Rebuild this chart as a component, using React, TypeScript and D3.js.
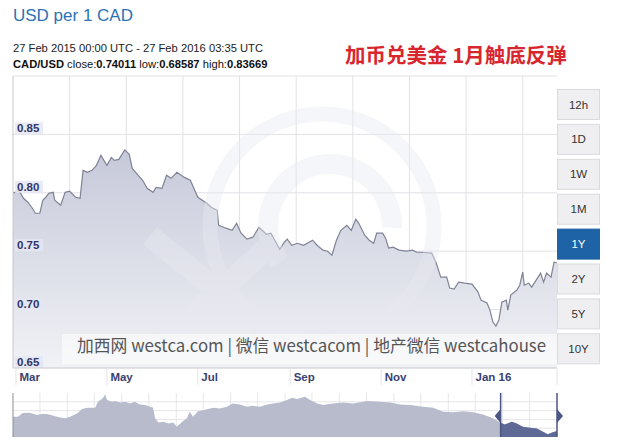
import React from 'react';
import * as d3 from 'd3';

// CAD/USD, 27 Feb 2015 - 27 Feb 2016
const rateSeries: [string, number][] = [
  ['2015-02-27', 0.7996], ['2015-03-03', 0.8021], ['2015-03-06', 0.7953], ['2015-03-09', 0.7919],
  ['2015-03-12', 0.7868], ['2015-03-14', 0.7825], ['2015-03-17', 0.7825], ['2015-03-19', 0.7936],
  ['2015-03-21', 0.7962], ['2015-03-23', 0.7996], ['2015-03-26', 0.8004], ['2015-03-27', 0.7936],
  ['2015-03-31', 0.7893], ['2015-04-03', 0.8004], ['2015-04-06', 0.8013], ['2015-04-10', 0.7962],
  ['2015-04-13', 0.7953], ['2015-04-15', 0.8192], ['2015-04-18', 0.8175], ['2015-04-21', 0.8192],
  ['2015-04-24', 0.8235], ['2015-04-27', 0.8321], ['2015-04-29', 0.8278], ['2015-05-01', 0.8235],
  ['2015-05-04', 0.8303], ['2015-05-06', 0.8278], ['2015-05-09', 0.8286], ['2015-05-13', 0.8367],
  ['2015-05-16', 0.8329], ['2015-05-18', 0.8209], ['2015-05-22', 0.8150], ['2015-05-25', 0.8107],
  ['2015-05-28', 0.8038], ['2015-06-01', 0.8004], ['2015-06-03', 0.8047], ['2015-06-07', 0.8038],
  ['2015-06-10', 0.8150], ['2015-06-13', 0.8124], ['2015-06-17', 0.8175], ['2015-06-22', 0.8132],
  ['2015-06-26', 0.8107], ['2015-07-01', 0.7962], ['2015-07-07', 0.7910], ['2015-07-10', 0.7876],
  ['2015-07-14', 0.7850], ['2015-07-15', 0.7722], ['2015-07-20', 0.7697], ['2015-07-24', 0.7679],
  ['2015-07-27', 0.7739], ['2015-07-30', 0.7654], ['2015-08-03', 0.7603], ['2015-08-07', 0.7620],
  ['2015-08-11', 0.7705], ['2015-08-16', 0.7645], ['2015-08-19', 0.7654], ['2015-08-25', 0.7517],
  ['2015-08-28', 0.7577], ['2015-08-30', 0.7603], ['2015-09-02', 0.7551], ['2015-09-06', 0.7568],
  ['2015-09-10', 0.7551], ['2015-09-16', 0.7594], ['2015-09-19', 0.7551], ['2015-09-23', 0.7509],
  ['2015-09-26', 0.7500], ['2015-09-29', 0.7466], ['2015-10-02', 0.7594], ['2015-10-05', 0.7679],
  ['2015-10-09', 0.7722], ['2015-10-12', 0.7679], ['2015-10-15', 0.7774], ['2015-10-17', 0.7739],
  ['2015-10-21', 0.7637], ['2015-10-24', 0.7594], ['2015-10-27', 0.7568], ['2015-10-29', 0.7654],
  ['2015-11-02', 0.7654], ['2015-11-04', 0.7611], ['2015-11-06', 0.7526], ['2015-11-09', 0.7534],
  ['2015-11-13', 0.7509], ['2015-11-18', 0.7500], ['2015-11-22', 0.7509], ['2015-11-25', 0.7491],
  ['2015-11-28', 0.7491], ['2015-12-05', 0.7483], ['2015-12-08', 0.7397], ['2015-12-11', 0.7278],
  ['2015-12-15', 0.7278], ['2015-12-17', 0.7184], ['2015-12-20', 0.7175], ['2015-12-23', 0.7235],
  ['2015-12-27', 0.7226], ['2016-01-01', 0.7218], ['2016-01-05', 0.7150], ['2016-01-07', 0.7081],
  ['2016-01-11', 0.7056], ['2016-01-13', 0.6996], ['2016-01-15', 0.6893], ['2016-01-17', 0.6859],
  ['2016-01-19', 0.6910], ['2016-01-21', 0.7064], ['2016-01-24', 0.7081], ['2016-01-25', 0.6996],
  ['2016-01-27', 0.7124], ['2016-01-31', 0.7167], ['2016-02-02', 0.7209], ['2016-02-04', 0.7321],
  ['2016-02-05', 0.7209], ['2016-02-08', 0.7226], ['2016-02-10', 0.7192], ['2016-02-13', 0.7252],
  ['2016-02-16', 0.7312], ['2016-02-18', 0.7235], ['2016-02-20', 0.7312], ['2016-02-23', 0.7278],
  ['2016-02-25', 0.7406], ['2016-02-27', 0.7401],
];

// 10 year history shown in the navigator strip
const navSeries: [string, number][] = [
  ['2006-02-27', 0.859], ['2006-04-01', 0.859], ['2006-05-03', 0.896], ['2006-06-20', 0.899],
  ['2006-08-07', 0.876], ['2006-09-09', 0.886], ['2006-10-12', 0.886], ['2006-11-25', 0.869],
  ['2007-01-08', 0.853], ['2007-02-14', 0.844], ['2007-03-17', 0.859], ['2007-05-03', 0.893],
  ['2007-06-06', 0.935], ['2007-07-15', 0.948], ['2007-09-02', 0.948], ['2007-09-20', 1.007],
  ['2007-10-23', 1.041], ['2007-11-07', 1.080], ['2007-11-21', 1.024], ['2007-12-24', 1.007],
  ['2008-01-12', 1.014], ['2008-02-18', 1.001], ['2008-03-20', 1.007], ['2008-04-23', 0.991],
  ['2008-05-25', 1.007], ['2008-06-27', 0.981], ['2008-08-03', 0.975], ['2008-09-06', 0.958],
  ['2008-09-24', 0.948], ['2008-10-08', 0.844], ['2008-10-30', 0.804], ['2008-12-02', 0.810],
  ['2009-01-05', 0.794], ['2009-02-07', 0.804], ['2009-03-02', 0.761], ['2009-04-08', 0.810],
  ['2009-05-10', 0.844], ['2009-05-28', 0.909], ['2009-06-20', 0.859], ['2009-07-23', 0.915],
  ['2009-08-25', 0.925], ['2009-09-27', 0.935], ['2009-11-03', 0.948], ['2009-12-17', 0.942],
  ['2010-02-03', 0.958], ['2010-03-13', 0.991], ['2010-04-30', 0.981], ['2010-06-17', 0.958],
  ['2010-07-26', 0.968], ['2010-09-13', 0.958], ['2010-10-30', 0.981], ['2010-12-09', 0.991],
  ['2011-01-26', 1.001], ['2011-03-13', 1.024], ['2011-04-15', 1.047], ['2011-05-18', 1.034],
  ['2011-07-12', 1.056], ['2011-08-14', 1.024], ['2011-10-01', 0.991], ['2011-11-11', 0.975],
  ['2012-01-15', 0.991], ['2012-03-24', 1.001], ['2012-05-28', 0.991], ['2012-09-02', 1.014],
  ['2012-11-29', 1.007], ['2013-02-03', 1.001], ['2013-04-08', 0.981], ['2013-06-17', 0.975],
  ['2013-09-13', 0.958], ['2013-11-18', 0.948], ['2014-01-23', 0.909], ['2014-04-01', 0.903],
  ['2014-06-06', 0.915], ['2014-08-14', 0.903], ['2014-10-19', 0.883], ['2014-12-24', 0.844],
  ['2015-02-11', 0.804], ['2015-03-13', 0.784], ['2015-04-30', 0.810], ['2015-06-02', 0.794],
  ['2015-07-12', 0.761], ['2015-08-29', 0.751], ['2015-10-15', 0.745], ['2015-11-25', 0.712],
  ['2015-12-27', 0.686], ['2016-01-30', 0.706], ['2016-02-27', 0.718],
];

const yTicks = [0.65, 0.7, 0.75, 0.8, 0.85];
const xTickDates = ['2015-03-01', '2015-05-01', '2015-07-01', '2015-09-01', '2015-11-01', '2016-01-01'];
const xTickLabels = ['Mar', 'May', 'Jul', 'Sep', 'Nov', 'Jan 16'];
const rangeButtons = ['12h', '1D', '1W', '1M', '1Y', '2Y', '5Y', '10Y'];
const activeButton = '1Y';

const parse = d3.timeParse('%Y-%m-%d');
const FONT = '"Liberation Sans", Arial, sans-serif';
const CJK = '"Noto Sans CJK SC", sans-serif';

export default function App() {
  const left = 13, right = 557, top = 76, bottom = 368;
  const navTop = 393, navBottom = 437;

  const main = rateSeries.map(([d, v]) => ({ date: parse(d) as Date, value: v }));
  const nav = navSeries.map(([d, v]) => ({ date: parse(d) as Date, value: v }));

  const x = d3.scaleTime()
    .domain([parse('2015-02-27') as Date, parse('2016-02-27') as Date])
    .range([left, right]);
  const y = d3.scaleLinear().domain([0.65, 0.9]).range([bottom, top]);

  const nx = d3.scaleTime()
    .domain([parse('2006-02-27') as Date, parse('2016-02-27') as Date])
    .range([left, right]);
  const ny = d3.scaleLinear().domain([0.66, 1.094]).range([navBottom, navTop]);

  const line = d3.line<any>().x(d => x(d.date)).y(d => y(d.value));
  const area = d3.area<any>().x(d => x(d.date)).y0(bottom).y1(d => y(d.value));
  const navArea = d3.area<any>().x(d => nx(d.date)).y0(navBottom).y1(d => ny(d.value));

  // vertical grid every 38 days in the main plot, half-yearly in the navigator
  const [d0] = x.domain();
  const gridX = d3.range(1, 10).map(k => x(d3.timeDay.offset(d0, 38 * k)));
  const [n0] = nx.domain();
  const navGridX = d3.range(1, 20).map(k => nx(d3.timeMonth.offset(n0, 6 * k)));
  const navGridY = d3.range(1, 5).map(k => navTop + (navBottom - navTop) * k / 5);

  const selX0 = nx(x.domain()[0]) - 2;
  const selX1 = nx(x.domain()[1]);

  return (
    <div style={{ position: 'absolute', left: 0, top: 0 }}>
      <svg width={624} height={446} style={{ display: 'block', background: '#fff' }}>
        <defs>
          <linearGradient id="fillGrad" gradientUnits="userSpaceOnUse" x1={0} y1={140} x2={0} y2={bottom}>
            <stop offset="0%" stopColor="#c4c7d8" />
            <stop offset="100%" stopColor="#f1f2f6" />
          </linearGradient>
          <clipPath id="plotClip">
            <rect x={left} y={top} width={right - left} height={bottom - top} />
          </clipPath>
          <clipPath id="selClip">
            <rect x={selX0} y={navTop} width={selX1 - selX0} height={navBottom - navTop} />
          </clipPath>
        </defs>

        {/* header */}
        <text x={13} y={21} fontFamily={FONT} fontSize={17} fill="#2b72b5">USD per 1 CAD</text>
        <text x={13} y={52} fontFamily={FONT} fontSize={11.2} fill="#222">
          27 Feb 2015 00:00 UTC - 27 Feb 2016 03:35 UTC
        </text>
        <text x={13} y={68} fontFamily={FONT} fontSize={11.2} fill="#111">
          <tspan fontWeight="bold">CAD/USD</tspan> close:<tspan fontWeight="bold">0.74011</tspan> low:
          <tspan fontWeight="bold">0.68587</tspan> high:<tspan fontWeight="bold">0.83669</tspan>
        </text>
        <text x={345} y={63} fontFamily={CJK} fontSize={20.5} fontWeight="bold" fill="#d8262e">
          加币兑美金 1月触底反弹
        </text>

        {/* main plot grid */}
        <g stroke="#e2e2e6" strokeWidth={1}>
          {gridX.map((gx, i) => <line key={i} x1={gx} x2={gx} y1={top} y2={bottom} />)}
          {yTicks.slice(1).map(t => <line key={t} x1={left} x2={right} y1={y(t)} y2={y(t)} />)}
          <line x1={left} x2={right} y1={top} y2={top} />
        </g>

        <g clipPath="url(#plotClip)">
          <path d={area(main) as string} fill="url(#fillGrad)" />
          <path d={line(main) as string} fill="none" stroke="#7f8394" strokeWidth={1.2} />
          {/* faint xe watermark */}
          <g opacity={0.42} fill="none" stroke="#e9eaf1">
            <circle cx={322} cy={226} r={112} strokeWidth={15} />
            <path d={d3.arc()({ innerRadius: 52, outerRadius: 72, startAngle: -2.2, endAngle: 1.6 } as any) as string}
              transform="translate(330,226)" fill="#e9eaf1" stroke="none" />
            <line x1={150} y1={236} x2={285} y2={345} strokeWidth={22} />
            <line x1={160} y1={345} x2={265} y2={250} strokeWidth={22} />
          </g>
        </g>

        {/* y labels */}
        {yTicks.map(t => (
          <g key={t}>
            <rect x={15} y={y(t) - 12} width={28} height={12} fill="#e4e6f2" opacity={0.85} />
            <text x={17} y={y(t) - 2} fontFamily={FONT} fontSize={11.5} fontWeight="bold" fill="#30366a">
              {t.toFixed(2)}
            </text>
          </g>
        ))}

        <line x1={left} x2={left} y1={top} y2={bottom} stroke="#c8c8cc" />
        <line x1={left} x2={right} y1={bottom} y2={bottom} stroke="#c8c8cc" />

        {/* x axis */}
        {xTickDates.map((d, i) => {
          const tx = x(parse(d) as Date);
          return (
            <g key={d}>
              <line x1={tx} x2={tx} y1={bottom} y2={385} stroke="#e4e4e8" />
              <text x={tx + 3.5} y={381} fontFamily={FONT} fontSize={11.5} fontWeight="bold" fill="#3a4172">
                {xTickLabels[i]}
              </text>
            </g>
          );
        })}
        <line x1={right} x2={right} y1={bottom} y2={385} stroke="#e4e4e8" />

        {/* watermark banner */}
        <rect x={62} y={334} width={right - 62} height={30} fill="#ffffff" opacity={0.55} />
        <text x={77} y={352} fontFamily={CJK} fontSize={17} fill="#555"
          textLength={469} lengthAdjust="spacingAndGlyphs">
          加西网 westca.com | 微信 westcacom | 地产微信 westcahouse
        </text>

        {/* range buttons */}
        {rangeButtons.map((b, i) => {
          const by = 89 + i * 34.9;
          const on = b === activeButton;
          return (
            <g key={b}>
              <rect x={557.5} y={by + 0.5} width={42} height={30} fill={on ? '#1e63a6' : '#efeff2'}
                stroke={on ? '#1e63a6' : '#dadade'} />
              <text x={578.5} y={by + 19.5} textAnchor="middle" fontFamily={FONT} fontSize={11.5}
                fill={on ? '#fff' : '#333'}>{b}</text>
            </g>
          );
        })}

        {/* navigator */}
        <g stroke="#e6e6ea">
          {navGridX.map((gx, i) => <line key={i} x1={gx} x2={gx} y1={navTop} y2={navBottom} />)}
          {navGridY.map((gy, i) => <line key={i} x1={left} x2={right} y1={gy} y2={gy} />)}
        </g>
        <path d={navArea(nav) as string} fill="#b7bbcb" />
        <path d={navArea(nav) as string} fill="#5e6996" clipPath="url(#selClip)" />
        <line x1={left} x2={left} y1={navTop} y2={navBottom} stroke="#8c8f9c" />
        <g stroke="#4c5684" strokeWidth={1.5}>
          <line x1={selX0} x2={selX0} y1={navTop} y2={navBottom} />
          <line x1={selX1} x2={selX1} y1={navTop} y2={navBottom} />
        </g>
        <path d={`M${selX0},${409} L${selX0 - 6},${416} L${selX0},${423} Z`} fill="#4c5684" />
        <path d={`M${selX1},${409} L${selX1 + 6},${416} L${selX1},${423} Z`} fill="#4c5684" />
      </svg>
    </div>
  );
}
